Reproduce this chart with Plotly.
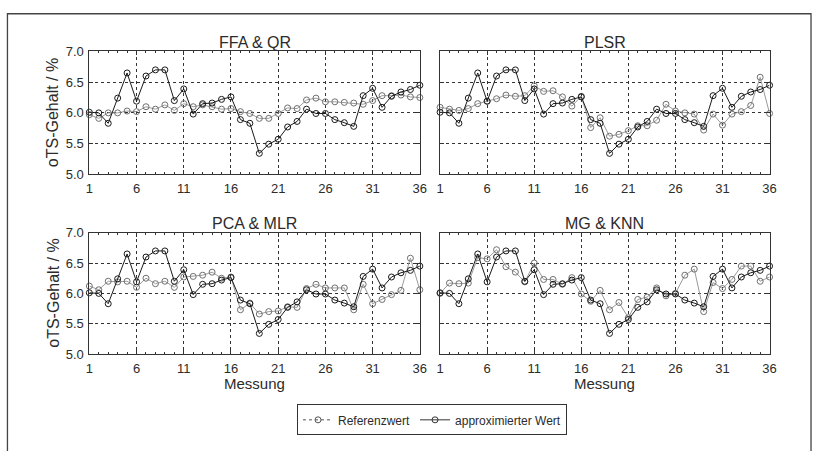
import plotly.graph_objects as go

messung = list(range(1, 37))
referenz = [6.01, 6.0, 5.83, 6.24, 6.65, 6.19, 6.6, 6.7, 6.7, 6.2, 6.39, 5.98, 6.15, 6.16, 6.22, 6.26,
            5.89, 5.83, 5.34, 5.49, 5.57, 5.77, 5.86, 6.06, 5.99, 5.99, 5.89, 5.84, 5.78, 6.28,
            6.4, 6.09, 6.27, 6.34, 6.38, 6.45]
ffa_qr = [5.97, 5.91, 6.0, 6.0, 6.03, 6.02, 6.1, 6.06, 6.13, 6.04, 6.15, 6.1, 6.13, 6.1, 6.06, 6.07,
          6.02, 5.99, 5.91, 5.91, 5.99, 6.08, 6.07, 6.21, 6.24, 6.18, 6.18, 6.17, 6.16, 6.14,
          6.2, 6.28, 6.28, 6.29, 6.26, 6.25]
plsr = [6.09, 6.06, 6.04, 6.07, 6.15, 6.19, 6.23, 6.29, 6.27, 6.28, 6.44, 6.35, 6.36, 6.26, 6.11, 6.27,
        5.76, 5.92, 5.62, 5.65, 5.71, 5.79, 5.79, 5.88, 6.14, 6.03, 6.0, 5.98, 5.72, 5.98,
        5.8, 5.98, 6.02, 6.12, 6.58, 5.99]
pca_mlr = [6.12, 6.06, 6.2, 6.19, 6.2, 6.1, 6.25, 6.16, 6.2, 6.1, 6.27, 6.28, 6.3, 6.35, 6.25, 6.27,
           5.73, 5.84, 5.66, 5.7, 5.71, 5.78, 5.77, 6.08, 6.15, 6.09, 6.09, 6.09, 5.73, 6.15,
           5.83, 5.9, 5.98, 6.05, 6.58, 6.06]
mg_knn = [6.0, 6.17, 6.16, 6.17, 6.59, 6.57, 6.72, 6.44, 6.35, 6.19, 6.5, 6.23, 6.23, 6.15, 6.26, 5.99,
          5.87, 6.05, 5.73, 5.85, 5.6, 5.9, 5.94, 6.09, 5.96, 6.0, 6.3, 6.4, 5.7, 6.18,
          6.08, 6.23, 6.45, 6.45, 6.2, 6.27]
titles = ["FFA & QR", "PLSR", "PCA & MLR", "MG & KNN"]
approx = [ffa_qr, plsr, pca_mlr, mg_knn]
x_ticks = [1, 6, 11, 16, 21, 26, 31, 36]
y_ticks = [5.0, 5.5, 6.0, 6.5, 7.0]

W, H = 819, 451
FONT = "Liberation Sans, Arial, sans-serif"
TXT = "#2b2b2b"
BLACK = "#1a1a1a"
GRAY_LINE = "#9a9a9a"
GRAY_MARK = "#707070"

# panel pixel boxes: (left, right, top, bottom)
boxes = [(86.5, 421.5, 46, 173), (442, 776, 46, 173),
         (86.5, 421.5, 233.5, 359), (442, 776, 233.5, 359)]
title_y = [37, 37, 224, 224]

fig = go.Figure()
layout = dict(width=W, height=H, margin=dict(l=0, r=0, t=0, b=0),
              paper_bgcolor="white", plot_bgcolor="white",
              font=dict(family=FONT, color=TXT, size=12))
annotations = []
for i, (l, r, t, b) in enumerate(boxes):
    n = i + 1
    xa = "x" if n == 1 else f"x{n}"
    ya = "y" if n == 1 else f"y{n}"
    xkey = "xaxis" if n == 1 else f"xaxis{n}"
    ykey = "yaxis" if n == 1 else f"yaxis{n}"
    layout[xkey] = dict(domain=[l / W, r / W], range=[1, 36], anchor=ya,
                        tickvals=x_ticks, ticktext=[str(v) for v in x_ticks],
                        ticks="inside", ticklen=4, tickcolor="#333", ticklabelstandoff=2,
                        showline=True, linecolor="#333", linewidth=1, mirror="ticks",
                        showgrid=True, gridcolor="#333", griddash="dot", gridwidth=1,
                        zeroline=False, tickfont=dict(size=13, color=TXT),
                        minor=dict(dtick=1, ticks="inside", ticklen=2, tickcolor="#333"))
    layout[ykey] = dict(domain=[1 - b / H, 1 - t / H], range=[5, 7], anchor=xa,
                        tickvals=y_ticks, ticktext=[f"{v:.1f}" for v in y_ticks],
                        showticklabels=(i % 2 == 0), ticklabelstandoff=2,
                        ticks="inside", ticklen=4, tickcolor="#333",
                        showline=True, linecolor="#333", linewidth=1, mirror="ticks",
                        showgrid=True, gridcolor="#333", griddash="dot", gridwidth=1,
                        zeroline=False, tickfont=dict(size=13, color=TXT))
    fig.add_trace(go.Scatter(x=messung, y=approx[i], xaxis=xa, yaxis=ya, mode="lines+markers",
                             line=dict(color=GRAY_LINE, width=1),
                             marker=dict(symbol="circle-open", size=6, color=GRAY_MARK,
                                         line=dict(width=1)),
                             cliponaxis=False, showlegend=False))
    fig.add_trace(go.Scatter(x=messung, y=referenz, xaxis=xa, yaxis=ya, mode="lines+markers",
                             line=dict(color=BLACK, width=1),
                             marker=dict(symbol="circle-open", size=6, color=BLACK,
                                         line=dict(width=1)),
                             cliponaxis=False, showlegend=False))
    annotations.append(dict(text=titles[i], x=(l + r) / 2 / W, y=1 - title_y[i] / H,
                            xref="paper", yref="paper", showarrow=False,
                            font=dict(size=16, color=TXT), xanchor="center", yanchor="middle"))
    if i % 2 == 0:
        annotations.append(dict(text="oTS-Gehalt / %", x=50 / W, y=1 - (t + b) / 2 / H,
                                xref="paper", yref="paper", showarrow=False, textangle=-90,
                                font=dict(size=16, color=TXT), xanchor="center", yanchor="middle"))
    if i >= 2:
        annotations.append(dict(text="Messung", x=(l + r) / 2 / W, y=1 - 379 / H,
                                xref="paper", yref="paper", showarrow=False,
                                font=dict(size=15, color=TXT), xanchor="center", yanchor="top"))

# legend-only entries
fig.add_trace(go.Scatter(x=[None], y=[None], mode="lines+markers", name="Referenzwert",
                         line=dict(color="#555", width=1, dash="dot"),
                         marker=dict(symbol="circle-open", size=6, color="#555")))
fig.add_trace(go.Scatter(x=[None], y=[None], mode="lines+markers", name="approximierter Wert",
                         line=dict(color="#333", width=1),
                         marker=dict(symbol="circle-open", size=6, color="#333")))

layout["annotations"] = annotations
layout["legend"] = dict(orientation="h", x=297 / W, y=1 - 411 / H, xanchor="left", yanchor="top",
                        bordercolor="#333", borderwidth=1, bgcolor="white",
                        font=dict(size=12, color=TXT), itemwidth=30,
                        tracegroupgap=0)
layout["shapes"] = [dict(type="rect", xref="paper", yref="paper", x0=3.5 / W, x1=818 / W,
                         y0=-0.05, y1=1 - 7 / H, line=dict(color="#444", width=1.3))]
fig.update_layout(**layout)
fig.write_html("out.html")
